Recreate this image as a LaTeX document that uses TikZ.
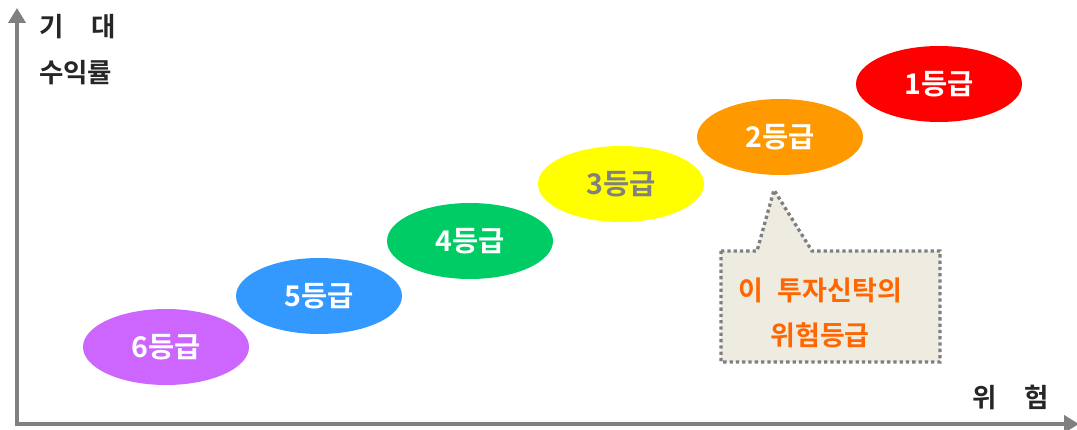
\documentclass[tikz,border=0pt]{standalone}
\usepackage{fontspec}
\setmainfont{Noto Sans CJK KR}[BoldFont={Noto Sans CJK KR Bold}]
\usetikzlibrary{arrows.meta,shapes.geometric}
\definecolor{axisgray}{HTML}{808080}
\definecolor{g6}{HTML}{CC66FF}
\definecolor{g5}{HTML}{3399FF}
\definecolor{g4}{HTML}{00CC66}
\definecolor{g3}{HTML}{FFFF00}
\definecolor{g2}{HTML}{FF9900}
\definecolor{g1}{HTML}{FF0000}
\definecolor{calloutfill}{HTML}{EEEBE0}
\definecolor{calloutline}{HTML}{7F7F7F}
\definecolor{callouttext}{HTML}{FF6600}
\definecolor{labeltext}{HTML}{262626}
\begin{document}
\begin{tikzpicture}[x=1pt,y=-1pt,
  grade/.style={ellipse,minimum width=166pt,minimum height=76pt,inner sep=0pt,
    text=white,font=\fontsize{28.5}{30}\selectfont\bfseries},
  axis/.style={draw=axisgray,line width=4.5pt,-{Triangle[width=17pt,length=15pt]}},
  axlabel/.style={text=labeltext,font=\fontsize{26.5}{28}\selectfont\bfseries,inner sep=0pt},
  calltext/.style={text=callouttext,font=\fontsize{27}{29}\selectfont\bfseries,inner sep=0pt}]
\useasboundingbox (0,0) rectangle (1077,430);
% axes
\coordinate (origin) at (17,424);
\coordinate (ytip) at (17,8);
\coordinate (xtip) at (1079,424);
\draw[axis] ([yshift=2.25pt]origin) -- (ytip);
\draw[axis] ([xshift=-2.25pt]origin) -- (xtip);
% axis labels
\node[axlabel,anchor=west] (ylab1) at (39,27) {기\hspace{1.05em}대};
\node[axlabel,anchor=west] (ylab2) at (39,73) {수익률};
\node[axlabel,anchor=east] (xlab) at (1049,397) {위\hspace{1.05em}험};
% grades
\node[grade,fill=g6] (e6) at (166,347) {6등급};
\node[grade,fill=g5] (e5) at (319,296) {5등급};
\node[grade,fill=g4] (e4) at (470,241) {4등급};
\node[grade,fill=g3,text=axisgray] (e3) at (621,184) {3등급};
\node[grade,fill=g2] (e2) at (780,137) {2등급};
\node[grade,fill=g1] (e1) at (939,84) {1등급};
% callout
\coordinate (ctip) at (774,190);
\draw[draw=calloutline,fill=calloutfill,line width=3.3pt,dash pattern=on 3.3pt off 3pt]
  (721,251) -- (757,251) -- (ctip) -- (812,251) -- (940,251) -- (940,362) -- (721,362) -- cycle;
\node[calltext] (c1) at (820,290) {이\hspace{0.55em}투자신탁의};
\node[calltext] (c2) at (820,335) {위험등급};
\end{tikzpicture}
\end{document}
